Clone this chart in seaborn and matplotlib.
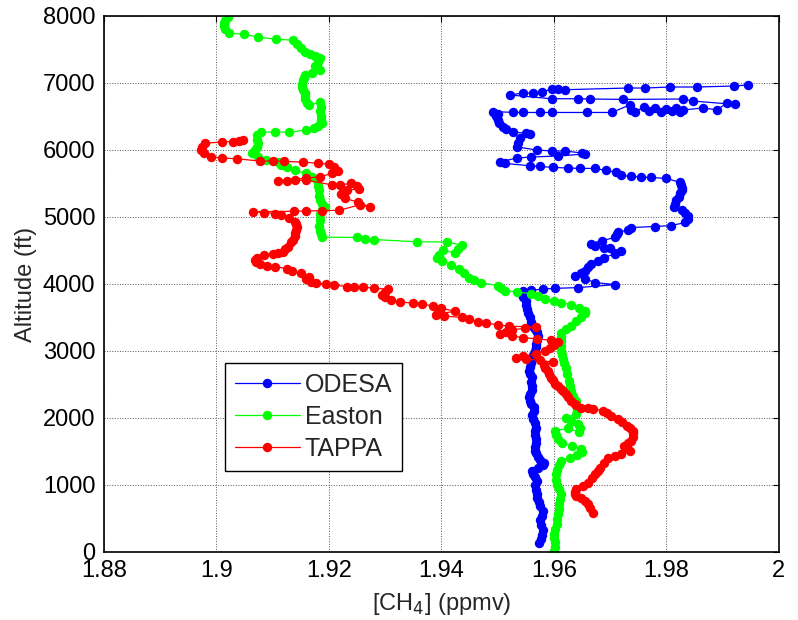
import matplotlib
matplotlib.use("Agg")
import matplotlib.pyplot as plt
import seaborn as sns
import pandas as pd

# ---------------- data ----------------
odesa_alt = [140, 200, 260, 330, 400, 470, 540, 613, 680, 740, 800, 867, 930, 1000, 1060, 1120, 1166, 1211,
             1260, 1300, 1335, 1380, 1420, 1470, 1510, 1560, 1620, 1680, 1740, 1800, 1858, 1920, 1980, 2040,
             2100, 2157, 2210, 2260, 2310, 2362, 2420, 2480, 2540, 2606, 2650, 2700, 2760, 2820, 2880, 2940,
             3000, 3060, 3109, 3160, 3220, 3280, 3330, 3380, 3440, 3502, 3560, 3620, 3680, 3740, 3800, 3860,
             3895, 3905, 3925, 3935, 3946, 3991, 4021, 4080, 4126, 4170, 4200, 4250, 4305, 4350, 4395, 4454,
             4499, 4530, 4544, 4574, 4604, 4649, 4694, 4740, 4780, 4800, 4843, 4858, 4873, 4918, 4970, 5022,
             5060, 5097, 5142, 5190, 5247, 5300, 5351, 5400, 5436, 5480, 5516, 5575, 5590, 5595, 5605, 5620,
             5665, 5695, 5725, 5725, 5732, 5740, 5755, 5765, 5800, 5821, 5880, 5895, 5910, 5940, 5955, 5985,
             5985, 6000, 6045, 6110, 6179, 6239, 6250, 6269, 6310, 6343, 6400, 6448, 6500, 6540, 6572, 6562,
             6560, 6560, 6560, 6560, 6560, 6672, 6600, 6570, 6640, 6580, 6620, 6560, 6610, 6580, 6620, 6570,
             6597, 6627, 6600, 6700, 6680, 6731, 6761, 6755, 6761, 6765, 6765, 6821, 6851, 6851, 6866, 6910,
             6905, 6900, 6925, 6925, 6940, 6940, 6955, 6970]
odesa_ch4 = [1.9574, 1.9577, 1.9579, 1.9580, 1.9578, 1.9576, 1.9579, 1.9580, 1.9576, 1.9573, 1.9571, 1.9571,
             1.9568, 1.9566, 1.9570, 1.9567, 1.9563, 1.9561, 1.9572, 1.9580, 1.9583, 1.9576, 1.9572, 1.9569,
             1.9567, 1.9566, 1.9568, 1.9569, 1.9566, 1.9567, 1.9568, 1.9566, 1.9563, 1.9562, 1.9565, 1.9565,
             1.9560, 1.9557, 1.9556, 1.9558, 1.9561, 1.9562, 1.9560, 1.9562, 1.9558, 1.9556, 1.9557, 1.9559,
             1.9560, 1.9563, 1.9566, 1.9568, 1.9569, 1.9571, 1.9572, 1.9570, 1.9566, 1.9562, 1.9559, 1.9557,
             1.9554, 1.9552, 1.9551, 1.9550, 1.9546, 1.9542, 1.9545, 1.9560, 1.9580, 1.9602, 1.9643, 1.9709,
             1.9673, 1.9655, 1.9637, 1.9648, 1.9655, 1.9660, 1.9666, 1.9678, 1.9690, 1.9709, 1.9720, 1.9700,
             1.9690, 1.9673, 1.9666, 1.9686, 1.9709, 1.9712, 1.9714, 1.9732, 1.9738, 1.9780, 1.9809, 1.9834,
             1.9838, 1.9839, 1.9833, 1.9827, 1.9813, 1.9815, 1.9818, 1.9822, 1.9825, 1.9827, 1.9827, 1.9826,
             1.9825, 1.9800, 1.9773, 1.9755, 1.9738, 1.9720, 1.9711, 1.9693, 1.9673, 1.9646, 1.9625, 1.9598,
             1.9575, 1.9557, 1.9513, 1.9504, 1.9534, 1.9560, 1.9607, 1.9655, 1.9650, 1.9620, 1.9596, 1.9570,
             1.9534, 1.9537, 1.9540, 1.9557, 1.9550, 1.9527, 1.9515, 1.9509, 1.9502, 1.9500, 1.9498, 1.9500,
             1.9492, 1.9528, 1.9545, 1.9575, 1.9596, 1.9659, 1.9703, 1.9735, 1.9738, 1.9745, 1.9760, 1.9770,
             1.9780, 1.9790, 1.9800, 1.9810, 1.9818, 1.9824, 1.9829, 1.9865, 1.9890, 1.9908, 1.9922, 1.9847,
             1.9829, 1.9723, 1.9664, 1.9643, 1.9596, 1.9522, 1.9545, 1.9563, 1.9579, 1.9596, 1.9608, 1.9620,
             1.9732, 1.9762, 1.9806, 1.9854, 1.9920, 1.9945]

easton_alt = [15, 80, 150, 210, 269, 340, 420, 490, 568, 640, 720, 790, 867, 940, 1000, 1080, 1166, 1230,
              1300, 1360, 1410, 1450, 1490, 1530, 1580, 1630, 1680, 1740, 1808, 1850, 1790, 1850, 1913, 1960,
              2000, 2062, 2130, 2200, 2257, 2330, 2406, 2480, 2556, 2650, 2750, 2820, 2880, 2940, 3004, 3080,
              3153, 3210, 3273, 3330, 3380, 3453, 3500, 3560, 3602, 3647, 3690, 3722, 3750, 3782, 3820, 3856,
              3880, 3901, 3940, 3976, 4021, 4060, 4096, 4160, 4230, 4290, 4350, 4388, 4440, 4507, 4462, 4520,
              4582, 4627, 4630, 4664, 4670, 4694, 4700, 4750, 4798, 4870, 4950, 5052, 5100, 5142, 5190, 5247,
              5320, 5396, 5470, 5545, 5600, 5650, 5700, 5740, 5780, 5815, 5845, 5900, 5949, 6000, 6050, 6100,
              6144, 6218, 6263, 6270, 6263, 6300, 6323, 6360, 6398, 6450, 6500, 6577, 6640, 6712, 6667, 6700,
              6756, 6800, 6846, 6890, 6936, 6990, 7040, 7080, 7115, 7150, 7190, 7250, 7310, 7369, 7400, 7429,
              7459, 7520, 7580, 7639, 7653, 7683, 7728, 7743, 7800, 7850, 7892, 7930, 7967, 7985]
easton_ch4 = [1.9601, 1.9602, 1.9603, 1.9601, 1.9601, 1.9603, 1.9605, 1.9606, 1.9607, 1.9609, 1.9610,
              1.9611, 1.9612, 1.9609, 1.9606, 1.9604, 1.9604, 1.9606, 1.9610, 1.9613, 1.9628, 1.9642, 1.9650,
              1.9648, 1.9632, 1.9615, 1.9607, 1.9604, 1.9603, 1.9625, 1.9644, 1.9646, 1.9643, 1.9630, 1.9622,
              1.9639, 1.9641, 1.9640, 1.9639, 1.9634, 1.9630, 1.9628, 1.9627, 1.9624, 1.9621, 1.9618, 1.9616,
              1.9614, 1.9613, 1.9613, 1.9613, 1.9612, 1.9612, 1.9622, 1.9630, 1.9639, 1.9648, 1.9655, 1.9655,
              1.9645, 1.9630, 1.9613, 1.9600, 1.9584, 1.9572, 1.9559, 1.9535, 1.9514, 1.9507, 1.9500, 1.9470,
              1.9458, 1.9450, 1.9440, 1.9432, 1.9418, 1.9402, 1.9392, 1.9396, 1.9403, 1.9424, 1.9430, 1.9436,
              1.9410, 1.9357, 1.9280, 1.9265, 1.9250, 1.9188, 1.9186, 1.9184, 1.9183, 1.9184, 1.9184, 1.9188,
              1.9193, 1.9188, 1.9184, 1.9183, 1.9182, 1.9180, 1.9179, 1.9170, 1.9160, 1.9140, 1.9125, 1.9115,
              1.9110, 1.9089, 1.9075, 1.9063, 1.9068, 1.9073, 1.9074, 1.9073, 1.9072, 1.9080, 1.9105, 1.9130,
              1.9160, 1.9173, 1.9180, 1.9188, 1.9187, 1.9186, 1.9184, 1.9186, 1.9184, 1.9164, 1.9162, 1.9157,
              1.9157, 1.9157, 1.9154, 1.9152, 1.9153, 1.9155, 1.9156, 1.9157, 1.9170, 1.9184, 1.9175, 1.9180,
              1.9184, 1.9175, 1.9166, 1.9157, 1.9150, 1.9143, 1.9137, 1.9107, 1.9075, 1.9050, 1.9023, 1.9016,
              1.9014, 1.9013, 1.9016, 1.9018, 1.9020]

tappa_alt = [587, 650, 717, 760, 807, 840, 867, 900, 942, 990, 1031, 1100, 1166, 1210, 1256, 1330, 1405,
             1440, 1465, 1510, 1550, 1584, 1620, 1659, 1720, 1770, 1808, 1850, 1883, 1940, 1988, 2033, 2070,
             2108, 2137, 2145, 2152, 2190, 2212, 2257, 2310, 2362, 2400, 2436, 2470, 2511, 2560, 2601, 2650,
             2706, 2750, 2795, 2836, 2860, 2880, 2896, 2920, 2960, 3004, 3045, 3090, 3134, 3160, 3180, 3200,
             3224, 3250, 3290, 3313, 3340, 3358, 3370, 3390, 3418, 3440, 3478, 3500, 3522, 3530, 3560, 3590,
             3640, 3672, 3700, 3716, 3730, 3760, 3800, 3841, 3880, 3920, 3940, 3950, 3955, 3960, 3985, 4000,
             4010, 4030, 4070, 4110, 4160, 4190, 4230, 4260, 4275, 4300, 4330, 4360, 4390, 4430, 4450, 4460,
             4480, 4520, 4550, 4620, 4660, 4710, 4760, 4810, 4850, 4900, 4930, 4990, 5030, 5050, 5065, 5080,
             5085, 5090, 5095, 5100, 5180, 5150, 5220, 5280, 5350, 5400, 5420, 5460, 5500, 5480, 5480, 5550,
             5545, 5540, 5540, 5580, 5600, 5650, 5690, 5740, 5790, 5800, 5820, 5830, 5835, 5835, 5870, 5880,
             5900, 5950, 6000, 6050, 6100, 6120, 6125, 6140, 6150]
tappa_ch4 = [1.9670, 1.9665, 1.9660, 1.9655, 1.9648, 1.9640, 1.9637, 1.9638, 1.9640, 1.9652, 1.9661,
             1.9667, 1.9673, 1.9678, 1.9682, 1.9690, 1.9696, 1.9708, 1.9720, 1.9736, 1.9730, 1.9725, 1.9732,
             1.9738, 1.9740, 1.9741, 1.9741, 1.9736, 1.9730, 1.9722, 1.9714, 1.9702, 1.9695, 1.9688, 1.9670,
             1.9660, 1.9648, 1.9640, 1.9637, 1.9630, 1.9626, 1.9621, 1.9616, 1.9612, 1.9607, 1.9602, 1.9598,
             1.9595, 1.9592, 1.9589, 1.9585, 1.9582, 1.9598, 1.9575, 1.9550, 1.9532, 1.9545, 1.9568, 1.9584,
             1.9593, 1.9600, 1.9607, 1.9595, 1.9571, 1.9545, 1.9525, 1.9505, 1.9515, 1.9525, 1.9548, 1.9568,
             1.9520, 1.9500, 1.9480, 1.9465, 1.9450, 1.9437, 1.9405, 1.9390, 1.9395, 1.9425, 1.9400, 1.9385,
             1.9365, 1.9350, 1.9327, 1.9310, 1.9300, 1.9295, 1.9300, 1.9305, 1.9280, 1.9260, 1.9245, 1.9232,
             1.9210, 1.9195, 1.9178, 1.9168, 1.9160, 1.9165, 1.9150, 1.9135, 1.9125, 1.9105, 1.9090, 1.9078,
             1.9070, 1.9068, 1.9072, 1.9085, 1.9100, 1.9110, 1.9118, 1.9122, 1.9128, 1.9133, 1.9137, 1.9140,
             1.9140, 1.9142, 1.9143, 1.9141, 1.9140, 1.9130, 1.9115, 1.9105, 1.9085, 1.9066, 1.9139, 1.9160,
             1.9188, 1.9218, 1.9255, 1.9273, 1.9252, 1.9229, 1.9222, 1.9232, 1.9254, 1.9250, 1.9240, 1.9220,
             1.9205, 1.9160, 1.9140, 1.9125, 1.9110, 1.9160, 1.9185, 1.9205, 1.9216, 1.9210, 1.9200, 1.9180,
             1.9155, 1.9120, 1.9100, 1.9077, 1.9036, 1.9010, 1.8990, 1.8978, 1.8973, 1.8975, 1.8980, 1.9010,
             1.9030, 1.9040, 1.9048]

series_names = ["ODESA", "Easton", "TAPPA"]
series_colors = ["#0000ff", "#00ff00", "#ff0000"]
x_ticks = [1.88, 1.9, 1.92, 1.94, 1.96, 1.98, 2.0]
x_tick_labels = ["1.88", "1.9", "1.92", "1.94", "1.96", "1.98", "2"]
y_ticks = [0, 1000, 2000, 3000, 4000, 5000, 6000, 7000, 8000]

# ---------------- plotting ----------------
sns.set_style("white")
plt.rcParams["font.family"] = ["Liberation Sans", "DejaVu Sans"]

fig = plt.figure(figsize=(7.98, 6.20), dpi=100)
ax = fig.add_axes([0.130, 0.1097, 0.846, 0.8645])

frames = []
for name, xs, ys in zip(series_names, [odesa_ch4, easton_ch4, tappa_ch4],
                        [odesa_alt, easton_alt, tappa_alt]):
    frames.append(pd.DataFrame({"ch4": xs, "alt": ys, "site": name}))
df = pd.concat(frames, ignore_index=True)

for name, color in zip(series_names, series_colors):
    sub = df[df["site"] == name]
    sns.lineplot(data=sub, x="ch4", y="alt", sort=False, estimator=None, ax=ax,
                 color=color, linewidth=0.9, marker="o", markersize=6.8,
                 markeredgewidth=0, markeredgecolor=color, label=name)

ax.set_xlim(1.88, 2.0)
ax.set_ylim(0, 8000)
ax.set_xticks(x_ticks)
ax.set_xticklabels(x_tick_labels)
ax.set_yticks(y_ticks)
ax.grid(True, linestyle=":", color="#555555", linewidth=0.7)
ax.tick_params(direction="in", length=4, width=0.8, top=True, right=True,
               labelsize=17, pad=6, colors="black")
for sp in ax.spines.values():
    sp.set_visible(True)
    sp.set_color("black")
    sp.set_linewidth(1.2)

ax.set_xlabel("[CH$_4$] (ppmv)", fontsize=17, labelpad=6)
ax.set_ylabel("Altitude (ft)", fontsize=17, labelpad=4)

leg = ax.legend(loc="upper left", bbox_to_anchor=(0.179, 0.353), fontsize=18,
                frameon=True, fancybox=False, framealpha=1, edgecolor="black",
                handlelength=2.6, handletextpad=0.2, labelspacing=0.32,
                borderpad=0.4, borderaxespad=0, numpoints=1)
leg.get_frame().set_linewidth(1.0)

fig.savefig("out.png", dpi=100)
